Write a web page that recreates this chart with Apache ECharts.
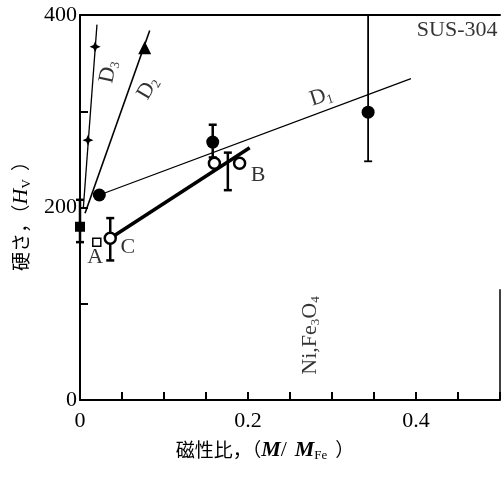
<!DOCTYPE html>
<html><head><meta charset="utf-8">
<script src="https://cdn.jsdelivr.net/npm/echarts@6/dist/echarts.min.js"></script>
<style>html,body{margin:0;padding:0;background:#fff}#c{width:504px;height:477px}</style>
</head><body><div id="c"></div>
<script>
// ---- data ----
const xTickLabels = [0, 0.2, 0.4];
const yTickLabels = [0, 200, 400];
const filledCircles = [[0.023, 213], [0.158, 268], [0.343, 299]];
const openCircles = [[0.036, 168], [0.16, 246], [0.19, 246]];
const filledSquares = [[0, 180]];
const openSquares = [[0.02, 164]];
const triangles = [[0.077, 366]];
const stars = [[0.0095, 270], [0.018, 367]];
const lineD1 = [[0.023, 213], [0.394, 334]];
const lineD2 = [[0.006, 194], [0.083, 384]];
const lineD3 = [[0.004, 200], [0.0202, 390]];
const lineCB = [[0.036, 168], [0.202, 262]];
const errThick = [[0, 164, 208], [0.036, 145, 189], [0.158, 252, 286], [0.176, 218, 257]];
const errThin = [[0.343, 248, 400]];
const rightFrame = [[0.5, 0], [0.5, 115]];
const annotations = [
  ['A', 0.018, 148, 0],
  ['C', 0.057, 159, 0],
  ['B', 0.212, 234, 0],
  ['{m|D}{s|1}', 0.287, 315, 18],
  ['{m|D}{s|2}', 0.081, 324, 60],
  ['{m|D}{s|3}', 0.034, 341, 78],
  ['SUS-304', 0.449, 384, 0],
  ['{m|Ni,Fe}{s|3}{m|O}{s|4}', 0.274, 67, 90]
];

const K = '#000';
const serif = 'Liberation Serif';
const cjk = 'Noto Sans CJK JP';
const rich = {
  m: {fontFamily: serif, fontSize: 22, color: K, lineHeight: 24, verticalAlign: 'middle'},
  s: {fontFamily: serif, fontSize: 13, color: K, lineHeight: 12, verticalAlign: 'bottom'},
  c: {fontFamily: cjk, fontSize: 19, color: K, lineHeight: 24, verticalAlign: 'middle'},
  i: {fontFamily: serif, fontSize: 22, color: K, fontWeight: 'bold', fontStyle: 'italic', lineHeight: 24, verticalAlign: 'middle'},
  ii: {fontFamily: serif, fontSize: 22, color: K, fontStyle: 'italic', lineHeight: 24, verticalAlign: 'middle'},
  sp: {fontFamily: serif, fontSize: 22, lineHeight: 24, width: 8}
};
function near(v, arr) { return arr.some(a => Math.abs(a - v) < 1e-6); }

function lineSeries(d, w) {
  return {type: 'line', data: d, symbol: 'none', lineStyle: {color: K, width: w}, silent: true, z: 3};
}
function scat(d, symbol, size, fill, bw) {
  return {type: 'scatter', data: d, symbol: symbol, symbolSize: size,
    itemStyle: {color: fill, borderColor: K, borderWidth: bw, opacity: 1}, z: 5};
}
function errSeries(d, w, cap) {
  return {type: 'custom', data: d, z: 4, renderItem: function (params, api) {
    const x = api.value(0);
    const lo = api.coord([x, api.value(1)]);
    const hi = api.coord([x, api.value(2)]);
    const st = {stroke: K, lineWidth: w};
    return {type: 'group', children: [
      {type: 'line', shape: {x1: lo[0], y1: lo[1], x2: hi[0], y2: hi[1]}, style: st},
      {type: 'line', shape: {x1: lo[0] - cap, y1: lo[1], x2: lo[0] + cap, y2: lo[1]}, style: st},
      {type: 'line', shape: {x1: hi[0] - cap, y1: hi[1], x2: hi[0] + cap, y2: hi[1]}, style: st}
    ]};
  }};
}

const chart = echarts.init(document.getElementById('c'));
chart.setOption({
  animation: false,
  backgroundColor: '#fff',
  grid: {left: 80, right: 4, top: 15, bottom: 77},
  xAxis: [{
    type: 'value', min: 0, max: 0.5, interval: 0.05,
    axisLine: {lineStyle: {color: K, width: 2}},
    axisTick: {inside: true, length: 8, lineStyle: {color: K, width: 2}},
    splitLine: {show: false},
    axisLabel: {margin: 10, fontFamily: serif, fontSize: 22, color: K,
      formatter: v => near(v, xTickLabels) ? String(+v.toFixed(2)) : ''},
    name: '{c|磁性比，（}{i|M}{m|/}{sp|}{i|M}{s|Fe}{sp|}{c|）}',
    nameLocation: 'middle', nameGap: 38,
    nameTextStyle: {rich: rich, padding: [0, 50, 0, 0]}
  }, {
    type: 'value', min: 0, max: 0.5, position: 'top',
    axisLine: {show: true, lineStyle: {color: K, width: 2}},
    axisTick: {show: false}, axisLabel: {show: false}, splitLine: {show: false}
  }],
  yAxis: {
    type: 'value', min: 0, max: 400, interval: 100,
    axisLine: {lineStyle: {color: K, width: 2}},
    axisTick: {inside: true, length: 8, lineStyle: {color: K, width: 2}},
    splitLine: {show: false},
    axisLabel: {margin: 3, fontFamily: serif, fontSize: 22, color: K,
      formatter: v => near(v, yTickLabels) ? String(v) : ''},
    name: '{c|硬さ，（}{ii|H}{s|V}{sp|}{c|）}',
    nameLocation: 'middle', nameGap: 42, nameRotate: 90,
    nameTextStyle: {rich: rich, padding: [0, 8, 0, 0]}
  },
  series: [
    lineSeries(rightFrame, 1.5),
    lineSeries(lineD1, 1.3),
    lineSeries(lineD2, 1.6),
    lineSeries(lineD3, 1.3),
    lineSeries(lineCB, 3.5),
    errSeries(errThick, 2.5, 4),
    errSeries(errThin, 1.8, 4),
    scat(filledCircles, 'circle', 13, K, 0),
    scat(openCircles, 'circle', 11, '#fff', 2.5),
    scat(filledSquares, 'rect', 10, K, 0),
    scat(openSquares, 'rect', 8, '#fff', 1.5),
    scat(triangles, 'triangle', 13, K, 0),
    scat(stars, 'path://M0,-10 L3,-3 L10,0 L3,3 L0,10 L-3,3 L-10,0 L-3,-3 Z', 11, K, 0),
    {type: 'scatter', symbolSize: 0, z: 6, silent: true,
      data: annotations.map(a => ({value: [a[1], a[2]],
        label: {show: true, position: 'inside', formatter: a[0], rotate: a[3],
          fontFamily: serif, fontSize: 22, color: K, rich: rich}}))}
  ]
});
</script></body></html>
